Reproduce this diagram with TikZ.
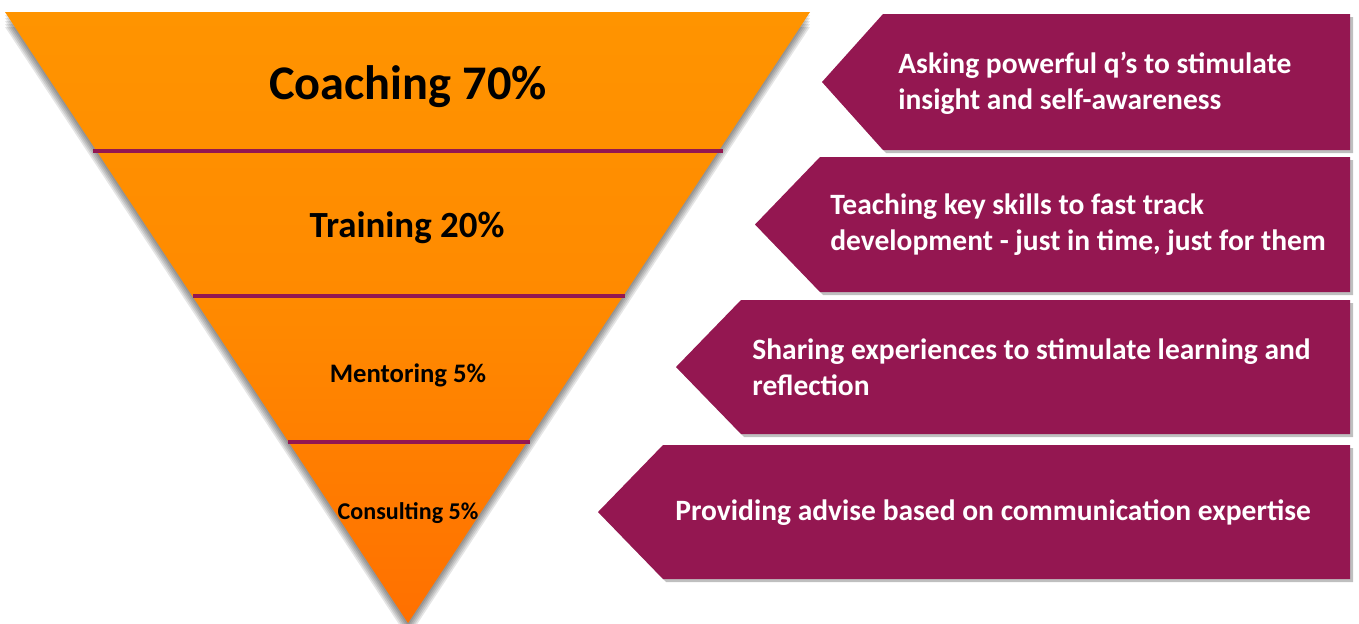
\documentclass[tikz,border=0pt]{standalone}
\usepackage{fontspec}
\setmainfont{Carlito}
\usetikzlibrary{positioning}

\definecolor{plum}{RGB}{148,23,81}
\definecolor{ambertop}{RGB}{255,148,0}
\definecolor{amberbot}{RGB}{255,112,0}

\tikzset{
    band/.style={plum, line width=2.8pt},
    stage/.style={font=\bfseries, text=black, inner sep=0pt},
    tipbox/.style={fill=plum},
    tipshade/.style={fill=black, opacity=0.25},
    tiptext/.style={text=white, font=\bfseries\fontsize{16.8}{20.5}\selectfont,
        align=left, anchor=west, inner sep=0pt},
}

\begin{document}
\begin{tikzpicture}[x=0.02cm, y=-0.02cm]
    \useasboundingbox (0,0) rectangle (1359,623);

    % funnel with its soft shadow
    \coordinate (TL) at (5,12);
    \coordinate (TR) at (810,12);
    \coordinate (B) at (408,623);
    \foreach \d in {3,6,9,12,15}
        \fill[black, opacity=0.1] (5,12+\d) -- (810,12+\d) -- (408,623+\d) -- cycle;
    \shade[top color=ambertop, bottom color=amberbot, middle color=ambertop!70!amberbot]
        (TL) -- (TR) -- (B) -- cycle;

    % dividers between the stages
    \draw[band] (93,151) -- (723,151);
    \draw[band] (193,296) -- (625,296);
    \draw[band] (288,442) -- (530,442);

    \node[stage, font=\bfseries\fontsize{27.5}{30}\selectfont] (coach) at (408,87) {Coaching 70\%};
    \node[stage, font=\bfseries\fontsize{21}{24}\selectfont] (train) at (407,228) {Training 20\%};
    \node[stage, font=\bfseries\fontsize{15.2}{18}\selectfont] (mentor) at (408,375) {Mentoring 5\%};
    \node[stage, font=\bfseries\fontsize{13.7}{16}\selectfont] (consult) at (408,513) {Consulting 5\%};

    % pointers on the right: tip x, corner x, top y, bottom y
    \foreach \t/\c/\u/\l in {822/883/14/150, 755/820/157/292, 676/741/300/434, 598/663/445/579} {
        \fill[tipshade] (\t+3,{(\u+\l)/2+3}) -- (\c+3,\u+3) -- (1353,\u+3) -- (1353,\l+3)
            -- (\c+3,\l+3) -- cycle;
        \fill[tipbox] (\t,{(\u+\l)/2}) -- (\c,\u) -- (1350,\u) -- (1350,\l) -- (\c,\l) -- cycle;
    }

    \node[tiptext] (ask) at (898,83) {Asking powerful q’s to stimulate\\insight and self-awareness};
    \node[tiptext] (teach) at (830,225) {Teaching key skills to fast track\\development - just in time, just for them};
    \node[tiptext] (share) at (752,367) {Sharing experiences to stimulate learning and\\reflection};
    \node[tiptext] (advise) at (675,513) {Providing advise based on communication expertise};
\end{tikzpicture}
\end{document}
